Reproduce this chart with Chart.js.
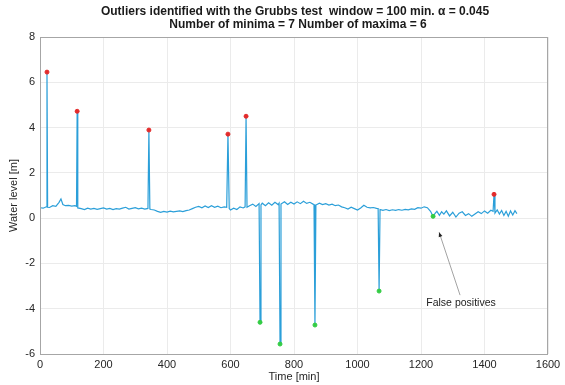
<!DOCTYPE html>
<html>
<head>
<meta charset="utf-8">
<script src="https://cdn.jsdelivr.net/npm/chart.js@4/dist/chart.umd.min.js"></script>
<style>
  html, body { margin: 0; padding: 0; background: #fff; }
  #box { width: 565px; height: 385px; }
</style>
</head>
<body>
<div id="box"><canvas id="myChart"></canvas></div>
<script>
// water level series, time in minutes (spikes included as they appear)
const times = [
  0, 10, 20, 22, 24, 30, 40, 50, 60, 66, 72, 80, 90, 100, 110, 115, 117, 119,
  130, 140, 150, 160, 170, 180, 190, 200, 210, 220, 230, 240, 250, 260, 270, 280, 290, 300,
  310, 320, 330, 340, 343, 346,
  350, 360, 370, 380, 390, 400, 410, 420, 430, 440, 450, 460, 470, 480,
  490, 500, 510, 520, 530, 540, 550, 560, 570, 580, 588, 592, 596, 600, 610, 620, 630, 640,
  646, 649, 652,
  660, 670, 680, 690, 693, 696, 700, 710, 720, 730, 740, 750, 753, 756, 759, 770, 780, 790,
  800, 810, 820, 830, 840, 850, 860, 863, 866, 869, 880, 890, 900,
  910, 920, 930, 940, 950, 960, 970, 980, 990, 1000, 1010, 1020, 1030, 1040, 1050, 1060,
  1065, 1068, 1071, 1080, 1090, 1100, 1110, 1120, 1130, 1140, 1150, 1160, 1170, 1180, 1190,
  1200, 1210, 1220, 1230, 1238,
  1245, 1250, 1258, 1265, 1272, 1280, 1290, 1300, 1310, 1320, 1330, 1340, 1350, 1360, 1370,
  1380, 1390, 1400, 1410, 1420, 1427, 1430, 1433, 1440, 1447, 1454, 1461, 1468, 1475, 1482,
  1489, 1496, 1502
];
const level = [
  0.46, 0.44, 0.50, 6.45, 0.48, 0.47, 0.55, 0.52, 0.70, 0.85, 0.60, 0.55, 0.56, 0.53, 0.55, 0.52, 4.72, 0.45,
  0.42, 0.38, 0.44, 0.40, 0.43, 0.39, 0.42, 0.45, 0.40, 0.43, 0.38, 0.42, 0.40, 0.44, 0.48, 0.40, 0.43, 0.46,
  0.41, 0.44, 0.40, 0.43, 3.89, 0.40,
  0.38, 0.36, 0.30, 0.26, 0.30, 0.27, 0.31, 0.28, 0.30, 0.32, 0.29, 0.33, 0.36, 0.42,
  0.48, 0.52, 0.46, 0.54, 0.47, 0.55, 0.48, 0.53, 0.46, 0.50, 0.48, 3.71, 0.42, 0.36, 0.44, 0.38, 0.50, 0.45,
  0.50, 4.50, 0.48,
  0.55, 0.62, 0.52, 0.64, -4.60, 0.58, 0.66, 0.55, 0.68, 0.57, 0.70, 0.60, 0.66, -5.56, 0.62, 0.72, 0.60, 0.70,
  0.62, 0.72, 0.64, 0.75, 0.65, 0.70, 0.62, 0.60, -4.72, 0.58, 0.66, 0.60, 0.64,
  0.58, 0.62, 0.55, 0.58, 0.50, 0.46, 0.40, 0.48, 0.42, 0.36, 0.45, 0.57, 0.48, 0.45, 0.47, 0.43,
  0.42, -3.22, 0.38, 0.34, 0.38, 0.33, 0.37, 0.34, 0.38, 0.35, 0.39, 0.37, 0.41, 0.39, 0.46,
  0.44, 0.50, 0.46, 0.30, 0.08,
  0.22, 0.30, 0.12, 0.28, 0.18, 0.32, 0.10, 0.26, 0.05, 0.22, 0.28, 0.12, 0.20, 0.08, 0.18,
  0.28, 0.20, 0.32, 0.22, 0.35, 0.30, 1.05, 0.22, 0.36, 0.18, 0.34, 0.12, 0.30, 0.08, 0.32,
  0.14, 0.33, 0.20
];

// detected outliers
const maxTime = [22, 117, 343, 592, 649, 1430];
const maxLevel = [6.45, 4.72, 3.89, 3.71, 4.50, 1.05];
const minTime = [693, 756, 866, 1068, 1238];
const minLevel = [-4.60, -5.56, -4.72, -3.22, 0.08];

const xTicks = [0, 200, 400, 600, 800, 1000, 1200, 1400, 1600];
const yTicks = [-6, -4, -2, 0, 2, 4, 6, 8];

const titleLines = [
  'Outliers identified with the Grubbs test  window = 100 min. \u03B1 = 0.045',
  'Number of minima = 7 Number of maxima = 6'
];
const xTitle = 'Time [min]';
const yTitle = 'Water level [m]';
const noteText = 'False positives';
const noteFrom = { x: 1323, y: -3.4 };
const noteTo = { x: 1257, y: -0.62 };
const notePos = { x: 1326, y: -3.75 };

const FONT = '"Liberation Sans", Arial, sans-serif';

function toXY(xs, ys) {
  return xs.map((x, i) => ({ x: x, y: ys[i] }));
}

// frame, titles and the arrow annotation
const decor = {
  id: 'decor',
  afterDatasetsDraw(chart) {
    const c = chart.ctx;
    const a = chart.chartArea;
    const sx = chart.scales.x, sy = chart.scales.y;
    c.save();
    c.strokeStyle = '#a6a6a6';
    c.lineWidth = 1;
    c.strokeRect(a.left + 0.5, a.top + 0.5, a.right - a.left - 1, a.bottom - a.top);

    // arrow
    const x1 = sx.getPixelForValue(noteFrom.x), y1 = sy.getPixelForValue(noteFrom.y);
    const x2 = sx.getPixelForValue(noteTo.x), y2 = sy.getPixelForValue(noteTo.y);
    c.strokeStyle = '#8c8c8c';
    c.lineWidth = 0.8;
    c.beginPath();
    c.moveTo(x1, y1);
    c.lineTo(x2, y2);
    c.stroke();
    const ang = Math.atan2(y2 - y1, x2 - x1);
    c.fillStyle = '#222';
    c.beginPath();
    c.moveTo(x2, y2);
    c.lineTo(x2 - 5 * Math.cos(ang - 0.4), y2 - 5 * Math.sin(ang - 0.4));
    c.lineTo(x2 - 5 * Math.cos(ang + 0.4), y2 - 5 * Math.sin(ang + 0.4));
    c.closePath();
    c.fill();

    c.fillStyle = '#222';
    c.font = '10.5px ' + FONT;
    c.textAlign = 'center';
    c.textBaseline = 'middle';
    c.fillText(noteText, sx.getPixelForValue(notePos.x), sy.getPixelForValue(notePos.y));

    // titles
    const cx = (a.left + a.right) / 2;
    c.fillStyle = '#1a1a1a';
    c.font = 'bold 12px ' + FONT;
    c.fillText(titleLines[0], cx + 1, 12);
    c.fillText(titleLines[1], cx + 4, 25);

    c.font = '11px ' + FONT;
    c.fillStyle = '#262626';
    c.fillText(xTitle, cx, 377);
    c.translate(14, (a.top + a.bottom) / 2);
    c.rotate(-Math.PI / 2);
    c.fillText(yTitle, 0, 0);
    c.restore();
  }
};

const ctx = document.getElementById('myChart').getContext('2d');
const myChart = new Chart(ctx, {
  type: 'scatter',
  data: {
    datasets: [
      {
        label: 'maxima',
        data: toXY(maxTime, maxLevel),
        showLine: false,
        pointRadius: 2,
        pointBackgroundColor: '#e32b2b',
        pointBorderColor: '#e32b2b',
        order: 0
      },
      {
        label: 'minima',
        data: toXY(minTime, minLevel),
        showLine: false,
        pointRadius: 2,
        pointBackgroundColor: '#33cc44',
        pointBorderColor: '#33cc44',
        order: 1
      },
      {
        label: 'level',
        data: toXY(times, level),
        showLine: true,
        borderColor: '#2b9fd9',
        borderWidth: 1.2,
        pointRadius: 0,
        tension: 0,
        order: 2
      }
    ]
  },
  options: {
    responsive: true,
    maintainAspectRatio: false,
    animation: false,
    layout: { padding: { top: 37, right: 17, left: 0, bottom: 0 } },
    plugins: {
      legend: { display: false },
      tooltip: { enabled: false },
      title: { display: false }
    },
    scales: {
      x: {
        type: 'linear',
        min: 0,
        max: 1600,
        afterBuildTicks: (s) => { s.ticks = xTicks.map(v => ({ value: v })); },
        afterFit: (s) => { s.height = 31; },
        grid: { color: '#ebebeb', drawTicks: false },
        border: { display: false },
        ticks: {
          padding: 4,
          color: '#262626',
          font: { family: FONT, size: 11 },
          callback: (v) => String(v)
        }
      },
      y: {
        type: 'linear',
        min: -6,
        max: 8,
        afterBuildTicks: (s) => { s.ticks = yTicks.map(v => ({ value: v })); },
        afterFit: (s) => { s.width = 40; },
        grid: { color: '#ebebeb', drawTicks: false },
        border: { display: false },
        ticks: {
          padding: 5,
          color: '#262626',
          font: { family: FONT, size: 11 },
          callback: (v) => String(v)
        }
      }
    }
  },
  plugins: [decor]
});
</script>
</body>
</html>
